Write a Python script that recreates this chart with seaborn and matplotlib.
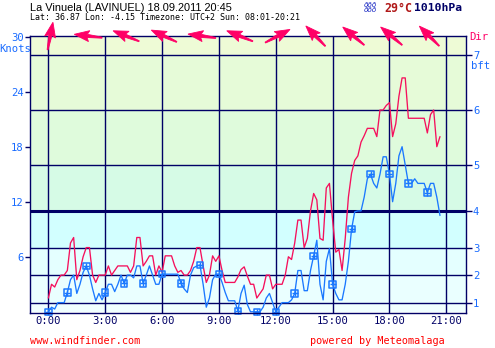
import numpy as np
import pandas as pd
import seaborn as sns
import matplotlib
matplotlib.use("Agg")
import matplotlib.pyplot as plt
from matplotlib.patches import Polygon
from matplotlib.transforms import Affine2D, ScaledTranslation

# ---- data (knots, 10-minute samples from 0:00) ----
gust = [1.5, 3, 2.7, 3.5, 4, 4, 4.5, 7.5, 8.1, 3.5, 4.5, 6, 7, 7, 4, 3.2, 4, 4, 4, 5,
        4, 4.5, 5, 5, 5, 5, 4.3, 5, 8.1, 8.1, 5, 5.5, 6.1, 6.1, 4, 5, 4.3, 6.1, 6.1, 6.1,
        5, 4.3, 4.5, 4, 4, 4.5, 5.5, 7, 7, 5, 3.2, 4, 6.1, 5.5, 6.1, 4.5, 3.2, 3.2, 3.2, 3.2,
        3.8, 4.6, 4.9, 3.9, 3.0, 3.0, 1.5, 2, 2.5, 4, 4, 2.5, 3, 3, 3, 4, 6, 5.7, 7.5, 10,
        10, 7, 8, 11, 12.9, 12.2, 8, 7.8, 13.5, 14, 10, 6.5, 6.8, 4.5, 8, 12.5, 15.1, 16.5, 17, 18.5,
        19.2, 20, 20, 20, 19.1, 22, 22, 22.5, 22.8, 19.1, 20.5, 23.5, 25.5, 25.5, 21.1, 21.1, 21.1, 21.1, 21.1, 21.1,
        19.5, 21.5, 22, 18, 19.1]
avg = [0, 0.5, 0.3, 1, 1, 1, 2.1, 3.5, 4, 2, 3, 4.3, 5, 4, 2.5, 1.2, 2, 1.3, 2.1, 3,
       3, 2.2, 3, 4, 3.1, 4, 4, 3.7, 5, 5, 3.1, 4, 5, 4, 3, 3, 4.1, 4.1, 4.1, 4.1,
       4.1, 4.1, 3.1, 2.5, 2.1, 4, 4.8, 5, 5.1, 3, 0.5, 1.5, 3.5, 4.1, 4.1, 3.2, 2.1, 1.2, 1.2, 1.2,
       0.1, 2, 2.9, 0.8, 0, 0, 0, 0, 0.5, 1.5, 2, 1, 0, 0.5, 1, 1, 1, 1.3, 2, 4.5,
       4.5, 2.3, 2.3, 4.5, 6.1, 7.8, 3, 1.3, 5.5, 6.9, 3, 2, 1.3, 1.3, 3, 5.5, 9, 10.9, 11, 11,
       12.5, 14.5, 15, 14, 13.5, 15, 16.9, 16.9, 15, 12, 14, 17, 18, 16, 14, 14, 14.5, 14, 14, 14,
       13, 14, 14, 12.5, 10.5]

hour_ticks = [0, 3, 6, 9, 12, 15, 18, 21]
hour_labels = ["0:00", "3:00", "6:00", "9:00", "12:00", "15:00", "18:00", "21:00"]
knot_ticks = [6, 12, 18, 24, 30]
knot_labels = ["6", "12", "18", "24", "30"]
bft_edges = [1, 4, 7, 11, 16, 22, 28]
bft_labels = ["1", "2", "3", "4", "5", "6", "7"]
band_edges = [0, 1, 4, 7, 11, 16, 22, 28, 31]
band_colors = ["#f0ffff", "#eaffff", "#e4ffff", "#d2ffff", "#d6fbe6", "#dffbdc", "#e6fbd8", "#eefbd6"]
dir_hours = [0, 2, 4, 6, 8, 10, 12, 14, 16, 18, 20]
dir_deg = [11, 277, 292, 295, 278, 292, 62, 316, 310, 310, 315]

NAVY = "#000066"
BLUE_TXT = "#1a6cff"
RED = "#f5105c"
BLUE = "#1a78ff"
PINK = "#ff0066"

sns.set_style("white")
W, H = 495, 348
fig = plt.figure(figsize=(W / 100, H / 100), dpi=100)
fig.patch.set_facecolor("white")
ax = fig.add_axes([30 / W, (H - 312.7) / H, 436 / W, 276.7 / H])
ax.set_xlim(-0.97, 22.04)
ax.set_ylim(-0.1, 30.07)

for lo, hi, c in zip(band_edges[:-1], band_edges[1:], band_colors):
    ax.axhspan(lo, hi, color=c, lw=0, zorder=0)
for h in hour_ticks:
    ax.axvline(h, color=NAVY, lw=1.0, zorder=1)
for k in bft_edges:
    ax.axhline(k, color=NAVY, lw=2.2 if k == 11 else 1.0, zorder=1)

df = pd.DataFrame({"hour": np.arange(len(gust)) / 6.0, "gust": gust, "avg": avg})
sns.lineplot(data=df, x="hour", y="gust", color=RED, lw=0.95, ax=ax, zorder=3)
sns.lineplot(data=df, x="hour", y="avg", color=BLUE, lw=0.95, ax=ax, zorder=4)
mk = df.iloc[::6]
sns.scatterplot(data=mk, x="hour", y="avg", ax=ax, marker="s", s=22,
                facecolor="none", edgecolor=BLUE, linewidth=1.1, zorder=5, clip_on=False)
sns.scatterplot(data=mk, x="hour", y="avg", ax=ax, marker="+", s=24,
                color=BLUE, linewidth=1.0, zorder=5, clip_on=False)

ax.set_xlabel("")
ax.set_ylabel("")
ax.set_xticks(hour_ticks)
ax.set_xticklabels(hour_labels, family="DejaVu Sans Mono", fontsize=7.6, color=NAVY)
ax.tick_params(axis="x", length=0, pad=2.5)
ax.set_yticks(knot_ticks)
ax.set_yticklabels(knot_labels, family="DejaVu Sans Mono", fontsize=7.6, color=BLUE_TXT)
ax.tick_params(axis="y", length=3.5, width=1, color=NAVY, pad=1, direction="out", left=True)
for s in ax.spines.values():
    s.set_color(NAVY)
    s.set_linewidth(1.0)
    s.set_zorder(6)

ax2 = ax.twinx()
ax2.set_ylim(ax.get_ylim())
ax2.set_yticks(bft_edges)
ax2.set_yticklabels(bft_labels, family="DejaVu Sans Mono", fontsize=7.6, color=BLUE_TXT)
ax2.tick_params(axis="y", length=4, width=1, color=NAVY, pad=1, direction="out", right=True)
for s in ax2.spines.values():
    s.set_visible(False)

# wind direction arrows
shape = [(14, 0), (-1, 5.5), (1, 1.6), (-14, 0.5), (-14, -0.5), (1, -1.6), (-1, -5.5)]
for h, d in zip(dir_hours, dir_deg):
    theta = 90 - d
    tr = Affine2D().rotate_deg(theta) + ScaledTranslation(h + 0.1, 30.07, ax.transData)
    p = Polygon(shape, closed=True, facecolor=PINK, edgecolor=PINK, lw=0.6,
                transform=tr, clip_on=False, zorder=7)
    fig.add_artist(p)

def ft(x, y, s, **kw):
    fig.text(x / W, 1 - y / H, s, va="center", **kw)

ft(30, 8, "La Vinuela (LAVINUEL) 18.09.2011 20:45", family="Liberation Sans", fontsize=7.9, color="black")
ft(30, 17.5, "Lat: 36.87 Lon: -4.15 Timezone: UTC+2 Sun: 08:01-20:21",
   family="DejaVu Sans Mono", fontsize=6.0, color="black")
ft(364, 7.5, "ððð\nððð", family="DejaVu Sans", style="italic", fontsize=5.2,
   color="#1020c0", linespacing=0.8)
ft(384, 8, "29°C", family="DejaVu Sans Mono", fontweight="bold", fontsize=8.4, color="#b01818")
ft(414, 8, "1010hPa", family="DejaVu Sans Mono", fontweight="bold", fontsize=8.2, color=NAVY)
ft(15, 48.5, "Knots", family="DejaVu Sans Mono", fontsize=7.6, color=BLUE_TXT, ha="center")
ft(469.5, 36.5, "Dir", family="DejaVu Sans Mono", fontsize=7.6, color=PINK)
ft(471, 66, "bft", family="DejaVu Sans Mono", fontsize=7.6, color=BLUE_TXT)
ft(30, 341, "www.windfinder.com", family="DejaVu Sans Mono", fontsize=7.3, color="#ff0000")
ft(310, 341, "powered by Meteomalaga", family="DejaVu Sans Mono", fontsize=7.3, color="#ff0000")

fig.savefig("out.png", dpi=100, facecolor="white")
